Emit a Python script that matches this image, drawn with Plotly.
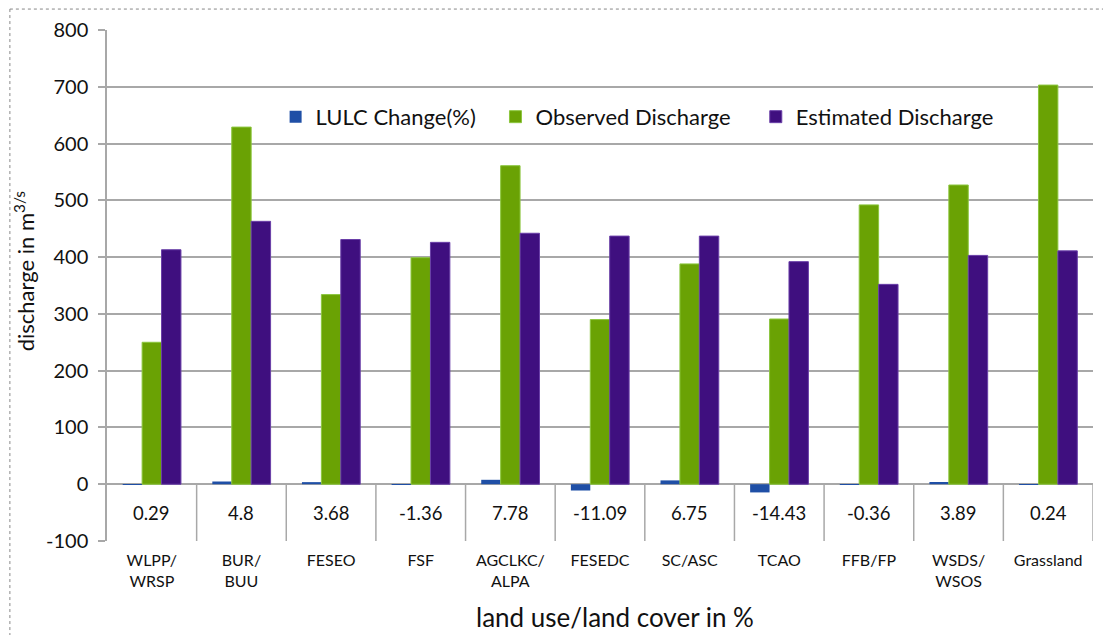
import plotly.graph_objects as go

# Land use / land cover classes (tick labels, two-line where needed)
categories = ["WLPP/<br>WRSP", "BUR/<br>BUU", "FESEO", "FSF", "AGCLKC/<br>ALPA",
              "FESEDC", "SC/ASC", "TCAO", "FFB/FP", "WSDS/<br>WSOS", "Grassland"]

# LULC change (%) per class
lulc_change = [0.29, 4.8, 3.68, -1.36, 7.78, -11.09, 6.75, -14.43, -0.36, 3.89, 0.24]

# Discharge values in m3/s
observed = [250, 629, 334, 399, 561, 290, 388, 291, 492, 527, 703]
estimated = [413, 463, 431, 426, 442, 437, 437, 392, 352, 403, 411]

y_ticks = [-100, 0, 100, 200, 300, 400, 500, 600, 700, 800]

FONT = "Lato"
TXT = "#111111"
GRID = "#a8a8a8"

x = list(range(len(categories)))

fig = go.Figure()
fig.add_trace(go.Bar(x=x, y=lulc_change, name="LULC Change(%)",
                     marker=dict(color="#1f4fa6", line=dict(width=0)),
                     legend="legend", showlegend=True))
fig.add_trace(go.Bar(x=x, y=observed, name="Observed Discharge",
                     marker=dict(color="#6aa204", line=dict(color="#8cc63f", width=1)),
                     legend="legend2", showlegend=True))
fig.add_trace(go.Bar(x=x, y=estimated, name="Estimated Discharge",
                     marker=dict(color="#3f0f7f", line=dict(color="#6a3fa8", width=1)),
                     legend="legend3", showlegend=True))

# Data table row between 0 and -100: cell borders and values
shapes = []
for i in range(1, len(categories) + 1):
    shapes.append(dict(type="line", xref="x", yref="y", x0=i - 0.5, x1=i - 0.5,
                       y0=-100, y1=0, line=dict(color=GRID, width=1.5), layer="below"))

annotations = []
for i, v in enumerate(lulc_change):
    annotations.append(dict(x=i, y=-50, xref="x", yref="y", text=f"{v:g}",
                            showarrow=False, font=dict(family=FONT, size=18.5, color=TXT)))

# Axis titles
annotations.append(dict(x=0.515, y=-0.148, xref="paper", yref="paper",
                        text="land use/land cover in %", showarrow=False,
                        xanchor="center", yanchor="middle",
                        font=dict(family=FONT, size=26, color=TXT)))
annotations.append(dict(x=-0.084, y=0.528, xref="paper", yref="paper",
                        text="discharge in m<sup>3/s</sup>", showarrow=False, textangle=-90,
                        xanchor="center", yanchor="middle",
                        font=dict(family=FONT, size=22, color=TXT)))

# Dotted frame on the top and left edges
shapes.append(dict(type="line", xref="paper", yref="paper", x0=-0.0985, x1=1.02,
                   y0=1.041, y1=1.041, line=dict(color="#888888", width=1, dash="dot")))
shapes.append(dict(type="line", xref="paper", yref="paper", x0=-0.0985, x1=-0.0985,
                   y0=1.041, y1=-0.2, line=dict(color="#888888", width=1, dash="dot")))

legend_common = dict(orientation="h", yanchor="middle", y=0.83, xanchor="left",
                     bgcolor="rgba(0,0,0,0)", borderwidth=0, visible=True,
                     font=dict(family=FONT, size=22, color=TXT), itemwidth=30)

fig.update_layout(
    width=1103, height=635,
    margin=dict(l=107, r=10, t=30, b=94),
    paper_bgcolor="white", plot_bgcolor="white",
    barmode="group", bargap=0.35, bargroupgap=0,
    font=dict(family=FONT, color=TXT),
    showlegend=True,
    shapes=shapes, annotations=annotations,
    legend=dict(x=0.171, **legend_common),
    legend2=dict(x=0.394, **legend_common),
    legend3=dict(x=0.658, **legend_common),
    xaxis=dict(
        range=[-0.5, len(categories) - 0.5],
        tickmode="array", tickvals=x, ticktext=categories,
        tickfont=dict(family=FONT, size=16, color=TXT),
        showgrid=False, showline=False, zeroline=False,
        ticks="", ticklabelstandoff=8,
    ),
    yaxis=dict(
        range=[-100, 800], tickmode="array", tickvals=y_ticks,
        ticktext=[str(t) for t in y_ticks],
        tickfont=dict(family=FONT, size=20, color=TXT),
        showgrid=True, gridcolor=GRID, gridwidth=1.5,
        zeroline=True, zerolinecolor=GRID, zerolinewidth=1.5,
        showline=True, linecolor=GRID, linewidth=1.5,
        ticks="outside", ticklen=7, tickcolor=GRID, tickwidth=1.5,
        ticklabelstandoff=6,
    ),
)

fig.write_html("out.html")
